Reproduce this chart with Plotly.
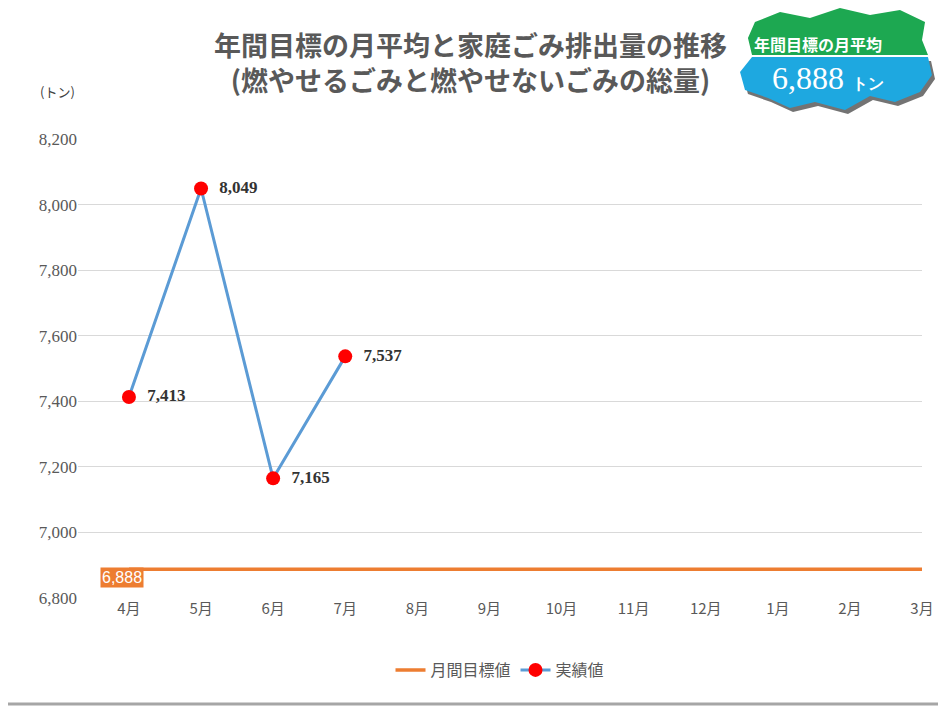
import plotly.graph_objects as go

months = ["4月","5月","6月","7月","8月","9月","10月","11月","12月","1月","2月","3月"]
target = [6888]*12
actual = [7413, 8049, 7165, 7537]
actual_labels = ["7,413","8,049","7,165","7,537"]

OFF = 8  # page body margin
W, H = 938, 699
L, R, T, B = 70, 24, 131, 109
pw, ph = W - L - R, H - T - B
def px(x): return (x - OFF - L) / pw
def py(y): return (H - B - (y - OFF)) / ph

fig = go.Figure()
fig.add_trace(go.Scatter(x=months, y=target, mode="lines", name="月間目標値",
                         line=dict(color="#ED7D31", width=3.5)))
fig.add_trace(go.Scatter(x=months[:len(actual)], y=actual, mode="lines+markers+text", name="実績値",
                         text=actual_labels, textposition="middle right", texttemplate="  <b>%{text}</b>",
                         textfont=dict(family="Liberation Serif", size=17, color="#333333"),
                         line=dict(color="#5B9BD5", width=3),
                         marker=dict(color="#FF0000", size=14)))

shapes = [dict(type="rect", xref="paper", yref="paper", x0=px(2), x1=px(944), y0=py(704), y1=py(2),
               line=dict(color="#A6A6A6", width=3), layer="below")]
def path(pts):
    return "M " + " L ".join(f"{px(a):.4f},{py(b):.4f}" for a, b in pts) + " Z"
green = [(755,22),(780,12),(810,18),(840,8),(870,15),(900,10),(925,22),(922,40),(928,55),(752,55),(748,38)]
blue = [(752,57),(928,57),(932,75),(920,92),(895,102),(870,96),(845,110),(815,102),(790,108),(768,98),(745,90),(740,72)]
shapes.append(dict(type="path", xref="paper", yref="paper", path=path([(a+3,b+4) for a,b in blue]),
                   fillcolor="rgba(0,0,0,0.55)", line=dict(width=0), layer="below"))
shapes.append(dict(type="path", xref="paper", yref="paper", path=path(green), fillcolor="#1DA851",
                   line=dict(width=0), layer="below"))
shapes.append(dict(type="path", xref="paper", yref="paper", path=path(blue), fillcolor="#1EA8E0",
                   line=dict(width=0), layer="below"))

ann = [
    dict(text="<b>年間目標の月平均と家庭ごみ排出量の推移<br>(燃やせるごみと燃やせないごみの総量)</b>",
         x=px(470), y=py(62), xref="paper", yref="paper", showarrow=False, xanchor="center", yanchor="middle",
         font=dict(family="Noto Sans CJK JP", size=27, color="#595959"), align="center"),
    dict(text="(トン)", x=px(38), y=py(80), xref="paper", yref="paper", showarrow=False,
         font=dict(family="Noto Sans CJK JP", size=13, color="#404040")),
    dict(text="<b>年間目標の月平均</b>", x=px(752), y=py(44), xref="paper", yref="paper", showarrow=False,
         xanchor="left", yanchor="middle",
         font=dict(family="Noto Sans CJK JP", size=16, color="white")),
    dict(text="6,888 <b><span style='font-size:16px'>トン</span></b>", x=px(770), y=py(78), xref="paper",
         yref="paper", xanchor="left", yanchor="middle",
         showarrow=False, font=dict(family="Liberation Serif", size=32, color="white")),
    dict(text="6,888", x=px(100), y=py(588), xref="paper", yref="paper", showarrow=False,
         bgcolor="#ED7D31", borderpad=1, font=dict(family="Liberation Sans", size=16, color="white")),
]

fig.update_layout(
    width=W, height=H, margin=dict(l=L, r=R, t=T, b=B, autoexpand=False),
    paper_bgcolor="white", plot_bgcolor="white",
    showlegend=True,
    legend=dict(orientation="h", x=0.5, xanchor="center", y=py(670), yanchor="middle",
                font=dict(family="Noto Sans CJK JP", size=16, color="#595959")),
    xaxis=dict(type="category", showgrid=False, showline=False, ticks="",
               tickfont=dict(family="Noto Sans CJK JP", size=15, color="#595959")),
    yaxis=dict(range=[6800, 8200], dtick=200, tickformat=",", showgrid=True, gridcolor="#D9D9D9",
               zeroline=False, showline=False, ticks="", ticklen=0,
               tickfont=dict(family="Liberation Serif", size=17, color="#595959")),
    shapes=shapes, annotations=ann,
)
fig.write_html("out.html")
